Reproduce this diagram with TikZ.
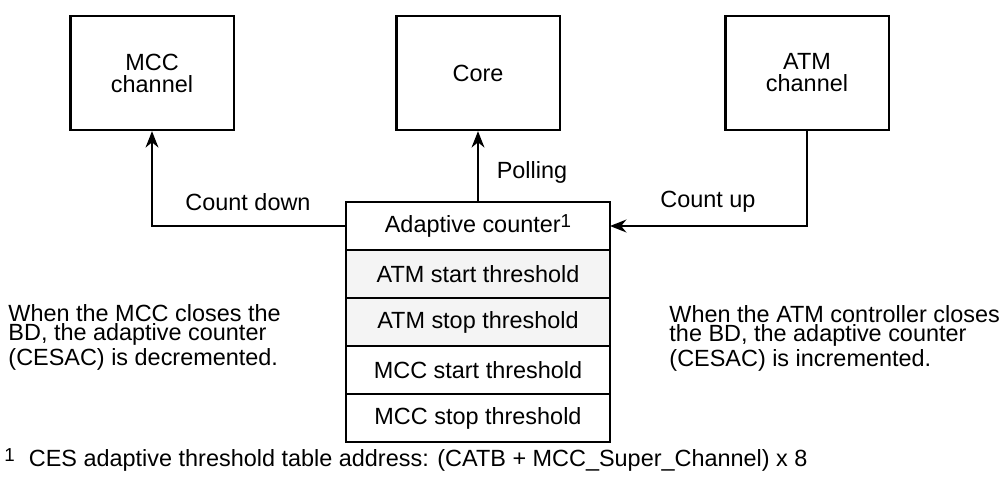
\documentclass[tikz,border=0pt]{standalone}
\usepackage{fontspec}
\setmainfont{Liberation Sans}
\usetikzlibrary{arrows.meta,positioning}
\definecolor{rowgray}{HTML}{F4F4F4}
\newcommand{\fnmark}{\raisebox{.45ex}{\fontsize{8}{8}\selectfont 1}}
\begin{document}
\begin{tikzpicture}[x=0.015cm,y=-0.015cm,>={Stealth[length=7pt,width=5.5pt]},
  font=\fontsize{10}{11}\selectfont,
  unit/.style={draw,line width=1pt,minimum width=2.45cm,minimum height=1.71cm,
    align=center,font=\fontsize{10}{9.4}\selectfont},
  row/.style={draw,line width=1pt,outer sep=0pt,minimum width=3.96cm,
    minimum height=.72cm,inner sep=0pt},
  flow/.style={->,line width=.85pt},
  note/.style={align=left,anchor=west,inner xsep=0pt,
    font=\fontsize{10}{8.4}\selectfont}]
\useasboundingbox (0,0) rectangle (1008,480);
\node[unit] (mcc) at (152,73) {MCC\\channel};
\node[unit] (core) at (478,73) {Core};
\node[unit] (atm) at (807,73) {ATM\\channel};
\node[row] (cnt) at (478,226) {Adaptive counter\fnmark};
\node[row,fill=rowgray,below=0pt of cnt] (atmstart) {ATM start threshold};
\node[row,fill=rowgray,below=0pt of atmstart] (atmstop) {ATM stop threshold};
\node[row,below=0pt of atmstop] (mccstart) {MCC start threshold};
\node[row,below=0pt of mccstart] (mccstop) {MCC stop threshold};
\draw[flow] (cnt.west) -| (mcc.south);
\draw[flow] (cnt.north) -- (core.south);
\draw[flow] (atm.south) |- (cnt.east);
\node (down) at (248,202) {Count down};
\node (poll) at (532,172) {Polling};
\node (up) at (708,202) {Count up};
\node[note] (mccnote) at (8,337)
 {When the MCC closes the\\BD, the adaptive counter\\(CESAC) is decremented.};
\node[note] (atmnote) at (669,338)
 {When the ATM controller closes\\the BD, the adaptive counter\\(CESAC) is incremented.};
\node[note] (foot) at (4,460)
 {\fnmark\hspace{6pt}CES adaptive threshold table address: (CATB + MCC\_Super\_Channel) x 8};
\end{tikzpicture}
\end{document}
